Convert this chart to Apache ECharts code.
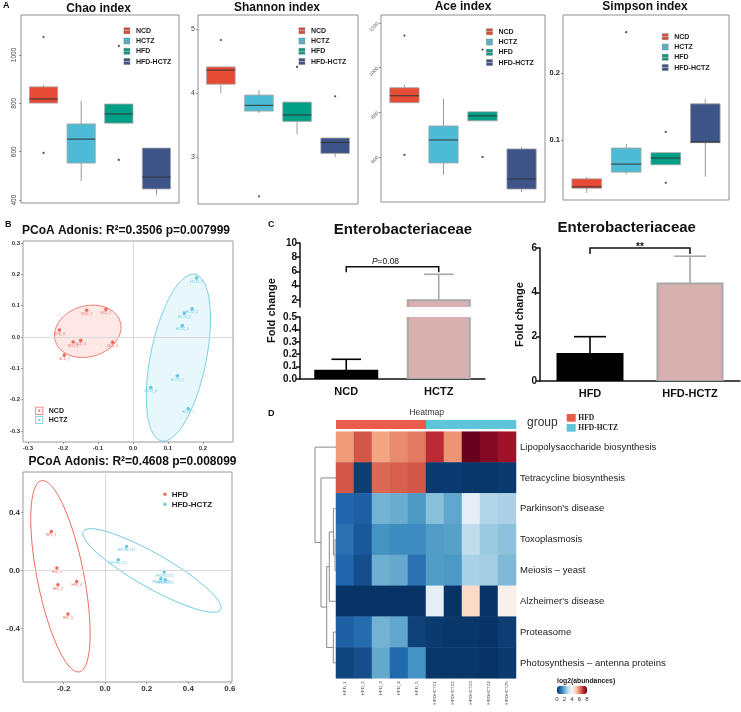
<!DOCTYPE html>
<html><head><meta charset="utf-8">
<script src="https://cdn.jsdelivr.net/npm/echarts@6/dist/echarts.min.js"></script>
<style>html,body{margin:0;padding:0;background:#fff}#c{width:741px;height:712px}</style>
</head><body><div id="c"></div>
<script>
// ---------------- DATA ----------------
const groupsA = ['NCD', 'HCTZ', 'HFD', 'HFD-HCTZ'];
const colorsA = ['#E64B35', '#4DBBD5', '#00A087', '#3C5488'];
// [min, Q1, median, Q3, max]
const chaoStats = [[801, 801, 818, 868, 876], [479, 553, 652, 715, 810], [718, 718, 756, 797, 797], [421, 446, 495, 615, 615]];
const chaoOutliers = [[1, 1074], [1, 595], [3, 1037], [3, 566]];
const chaoTicks = [400, 600, 800, 1000];
const shannonStats = [[4.00, 4.14, 4.36, 4.41, 4.41], [3.69, 3.72, 3.81, 3.97, 4.05], [3.36, 3.56, 3.66, 3.86, 3.86], [3.00, 3.06, 3.23, 3.30, 3.30]];
const shannonOutliers = [[1, 4.83], [2, 2.39], [3, 4.41], [4, 3.95]];
const shannonTicks = [3, 4, 5];
const aceStats = [[843, 843, 874, 910, 924], [519, 573, 676, 739, 861], [762, 762, 784, 802, 802], [443, 456, 501, 636, 645]];
const aceOutliers = [[1, 1144], [1, 609], [3, 1081], [3, 600]];
const aceTicks = [600, 800, 1000, 1200];
const simpsonStats = [[0.021, 0.028, 0.030, 0.042, 0.045], [0.049, 0.052, 0.064, 0.088, 0.094], [0.063, 0.063, 0.073, 0.081, 0.081], [0.045, 0.096, 0.097, 0.154, 0.161]];
const simpsonOutliers = [[2, 0.261], [3, 0.112], [3, 0.036]];
const simpsonTicks = [0.1, 0.2];

const pcoa1NCD = [[-0.132, 0.085], [-0.077, 0.088], [-0.210, 0.022], [-0.171, -0.016], [-0.149, -0.011], [-0.058, -0.017], [-0.196, -0.058]];
const pcoa1HCTZ = [[0.182, 0.188], [0.169, 0.090], [0.147, 0.076], [0.141, 0.036], [0.127, -0.124], [0.051, -0.161], [0.158, -0.229]];
const pcoa1Ticks = [-0.3, -0.2, -0.1, 0, 0.1, 0.2, 0.3];
// ellipse: [cx, cy, ux, uy, vx, vy]
const pcoa1Ellipses = [[-0.129, 0.018, 0.0888, 0.0414, -0.0338, 0.0725], [0.13, -0.066, 0.0469, 0.2659, -0.0788, 0.0139]];
const pcoa2HFD = [[-0.259, 0.269], [-0.232, 0.017], [-0.227, -0.099], [-0.137, -0.076], [-0.179, -0.301]];
const pcoa2HCTZ = [[0.103, 0.166], [0.063, 0.074], [0.284, -0.011], [0.268, -0.057], [0.289, -0.064]];
const pcoa2XTicks = [-0.2, 0, 0.2, 0.4, 0.6];
const pcoa2YTicks = [-0.4, 0, 0.4];
const pcoa2Ellipses = [[-0.215, -0.04, -0.091, 0.66, 0.11, 0.032], [0.225, 0.0, 0.33, -0.27, 0.04, 0.102]];

const cLeftCats = ['NCD', 'HCTZ'];
const cLeftMean = [0.067, 1.95];
const cLeftSD = [0.092, 3.65];
const cRightCats = ['HFD', 'HFD-HCTZ'];
const cRightMean = [1.22, 4.40];
const cRightSD = [0.78, 1.23];
const cUpperTicks = [2, 4, 6, 8, 10];
const cLowerTicks = [0, 0.1, 0.2, 0.3, 0.4, 0.5];
const bracketLeft = [0, 1, 6.67, 5.9];
const bracketRight = [0, 1, 6.0, 5.73];
const sigLeft = 'P=0.08';
const sigRight = '**';

const hmCols = ['HFD_1', 'HFD_2', 'HFD_3', 'HFD_4', 'HFD_5', 'HFDHCTZ1', 'HFDHCTZ2', 'HFDHCTZ3', 'HFDHCTZ4', 'HFDHCTZ5'];
const hmGroups = ['HFD', 'HFD', 'HFD', 'HFD', 'HFD', 'HFD-HCTZ', 'HFD-HCTZ', 'HFD-HCTZ', 'HFD-HCTZ', 'HFD-HCTZ'];
const hmRows = ['Lipopolysaccharide biosynthesis', 'Tetracycline biosynthesis', "Parkinson's disease", 'Toxoplasmosis', 'Meiosis \u2013 yeast', "Alzheimer's disease", 'Proteasome', 'Photosynthesis \u2013 antenna proteins'];
const hmValues = [
  [5.7, 6.5, 5.6, 5.9, 6.1, 7.0, 5.8, 8.0, 7.7, 7.4],
  [6.5, 0.2, 6.3, 6.4, 6.5, 0.15, 0.15, 0.1, 0.1, 0.15],
  [0.8, 0.7, 2.1, 2.0, 1.7, 2.3, 1.9, 3.6, 2.8, 2.7],
  [1.0, 0.6, 1.6, 1.5, 1.45, 1.75, 1.8, 3.0, 2.5, 2.35],
  [0.8, 0.45, 2.05, 1.95, 1.0, 1.75, 1.7, 2.7, 2.6, 2.2],
  [0.05, 0.05, 0.05, 0.05, 0.05, 3.6, 0.05, 4.8, 0.05, 4.2],
  [0.7, 0.9, 2.1, 1.9, 0.25, 0.15, 0.1, 0.1, 0.05, 0.2],
  [0.3, 0.45, 1.95, 0.85, 1.6, 0.1, 0.1, 0.1, 0.05, 0.15]
];
// dendrogram merges: [yChild1, hChild1, yChild2, hChild2, height]
const dendroMerges = [[3, 0, 4, 0, 1], [2, 0, 3.5, 1, 2.6], [2.75, 2.6, 5, 0, 6.7], [6, 0, 7, 0, 2.7], [3.875, 6.7, 6.5, 2.7, 9.3], [1, 0, 5.1875, 9.3, 15], [0, 0, 3.09375, 15, 21]];
const legendTicks = [0, 2, 4, 6, 8];

// ---------------- BUILD ----------------
const SANS = '"Liberation Sans", Arial, sans-serif';
const SERIF = '"Liberation Serif", "Times New Roman", serif';
const grids = [], xAxes = [], yAxes = [], series = [], legends = [], graphics = [];
function addGrid(r) { grids.push(Object.assign({ show: false }, r)); return grids.length - 1; }
function txt(text, x, y, o) {
  o = o || {};
  const al = o.align || 'center', va = o.valign || 'middle';
  return { type: 'text', x: x, y: y, rotation: o.rotation || 0, silent: true, z: 100,
    style: { text: text, fontSize: o.size || 10, fontWeight: o.weight || 'normal', fontFamily: o.family || SANS,
      fill: o.color || '#111', align: al, verticalAlign: va, textAlign: al, textVerticalAlign: va } };
}
const plainNum = function (v) { return String(+v); };

// ---- Panel A: box plots ----
function boxItem(params, api) {
  const x = api.value(0);
  const p = [1, 2, 3, 4, 5].map(function (i) { return api.coord([x, api.value(i)]); });
  const hw = api.size([0.75, 0])[0] / 2;
  const cx = p[0][0];
  const ws = { stroke: '#808080', lineWidth: 0.8 };
  return { type: 'group', children: [
    { type: 'line', shape: { x1: cx, y1: p[0][1], x2: cx, y2: p[1][1] }, style: ws },
    { type: 'line', shape: { x1: cx, y1: p[3][1], x2: cx, y2: p[4][1] }, style: ws },
    { type: 'rect', shape: { x: cx - hw, y: p[3][1], width: hw * 2, height: p[1][1] - p[3][1] }, style: { fill: api.visual('color'), stroke: '#a3a3a3', lineWidth: 0.8 } },
    { type: 'line', shape: { x1: cx - hw, y1: p[2][1], x2: cx + hw, y2: p[2][1] }, style: { stroke: '#333', lineWidth: 1 } }
  ] };
}
const boxPanels = [
  { title: 'Chao index', stats: chaoStats, out: chaoOutliers, ticks: chaoTicks, min: 388, max: 1165,
    grid: { left: 21, top: 15, width: 158, height: 188 }, label: { rotate: 90, fontSize: 6.5, color: '#444' }, lg: [123.7, 26.7], tp: [98.5, 9] },
  { title: 'Shannon index', stats: shannonStats, out: shannonOutliers, ticks: shannonTicks, min: 2.27, max: 5.22,
    grid: { left: 198, top: 15, width: 160, height: 189 }, label: { fontSize: 7, color: '#444' }, lg: [298.7, 26.7], tp: [277, 8] },
  { title: 'Ace index', stats: aceStats, out: aceOutliers, ticks: aceTicks, min: 398, max: 1236,
    grid: { left: 381, top: 15, width: 164, height: 187 }, label: { rotate: 45, fontSize: 5, color: '#555' }, lg: [486.3, 27.7], tp: [463, 6.5] },
  { title: 'Simpson index', stats: simpsonStats, out: simpsonOutliers, ticks: simpsonTicks, min: 0.0104, max: 0.2866,
    grid: { left: 563, top: 15, width: 166, height: 185 }, label: { fontSize: 7.5, fontWeight: 'bold', color: '#222' }, lg: [662, 32.7], tp: [645, 6.5] }
];
boxPanels.forEach(function (p) {
  const gi = addGrid(Object.assign({ show: true, borderColor: '#8f8f8f', borderWidth: 1 }, p.grid));
  xAxes.push({ type: 'value', gridIndex: gi, min: 0.4, max: 4.6, show: false });
  yAxes.push({ type: 'value', gridIndex: gi, min: p.min, max: p.max, axisLine: { show: false, onZero: false }, splitLine: { show: false },
    axisTick: { show: true, length: 2, customValues: p.ticks, lineStyle: { color: '#555', width: 0.6 } },
    axisLabel: Object.assign({ customValues: p.ticks, margin: 3, fontFamily: SANS, formatter: plainNum }, p.label) });
  const ai = xAxes.length - 1;
  groupsA.forEach(function (g, i) {
    series.push({ type: 'custom', name: g, xAxisIndex: ai, yAxisIndex: ai, itemStyle: { color: colorsA[i] },
      renderItem: boxItem, encode: { x: 0, y: [1, 5] }, data: [[i + 1].concat(p.stats[i])], silent: true });
  });
  series.push({ type: 'scatter', xAxisIndex: ai, yAxisIndex: ai, symbolSize: 2.2, itemStyle: { color: '#222' }, data: p.out, silent: true });
  legends.push({ data: groupsA, orient: 'vertical', left: p.lg[0], top: p.lg[1], itemWidth: 8, itemHeight: 6, itemGap: 2.3, selectedMode: false, padding: 0,
    icon: 'path://M0,0H10V4.4H0Z M0,5.6H10V10H0Z',
    itemStyle: { borderColor: '#666', borderWidth: 0.4 },
    textStyle: { fontSize: 7, fontWeight: 'bold', color: '#222', lineHeight: 8, fontFamily: SANS } });
  graphics.push(txt(p.title, p.tp[0], p.tp[1], { size: 12, weight: 'bold' }));
});
graphics.push(txt('A', 3, 5.5, { size: 9, weight: 'bold', align: 'left' }));

// ---- Panel B: PCoA ----
function ellipseRenderer(fills, strokes) {
  return function (params, api) {
    const v = [0, 1, 2, 3, 4, 5].map(function (i) { return api.value(i); });
    const pts = [];
    for (let k = 0; k <= 96; k++) {
      const t = k / 96 * Math.PI * 2;
      pts.push(api.coord([v[0] + v[2] * Math.cos(t) + v[4] * Math.sin(t), v[1] + v[3] * Math.cos(t) + v[5] * Math.sin(t)]));
    }
    return { type: 'polygon', shape: { points: pts }, style: { fill: fills[params.dataIndex], stroke: strokes[params.dataIndex], lineWidth: 1 } };
  };
}
function pcoaAxisLabel(size) { return { fontSize: size, fontWeight: 'bold', color: '#333', margin: 3, fontFamily: SANS, formatter: function (v) { return (+v).toFixed(1); } }; }
function pcoaPanel(cfg) {
  const gi = addGrid(Object.assign({ show: true, borderColor: '#9a9a9a', borderWidth: 1 }, cfg.grid));
  xAxes.push({ type: 'value', gridIndex: gi, min: cfg.xr[0], max: cfg.xr[1], splitLine: { show: false }, axisLine: { show: false, onZero: false },
    axisTick: { show: true, length: 2, customValues: cfg.xt, lineStyle: { color: '#666', width: 0.6 } }, axisLabel: Object.assign({ customValues: cfg.xt }, pcoaAxisLabel(cfg.fs)) });
  yAxes.push({ type: 'value', gridIndex: gi, min: cfg.yr[0], max: cfg.yr[1], splitLine: { show: false }, axisLine: { show: false, onZero: false },
    axisTick: { show: true, length: 2, customValues: cfg.yt, lineStyle: { color: '#666', width: 0.6 } }, axisLabel: Object.assign({ customValues: cfg.yt }, pcoaAxisLabel(cfg.fs)) });
  const ai = xAxes.length - 1;
  series.push({ type: 'custom', xAxisIndex: ai, yAxisIndex: ai, renderItem: ellipseRenderer(cfg.efill, cfg.estroke), encode: { x: 0, y: 1 }, data: cfg.ellipses, silent: true, z: 1,
    markLine: { silent: true, symbol: 'none', label: { show: false }, lineStyle: { color: '#d9d9d9', width: 1, type: 'solid' }, data: [{ xAxis: 0 }, { yAxis: 0 }] } });
  cfg.groups.forEach(function (g, k) {
    series.push({ type: 'scatter', name: cfg.prefix + '|' + g, xAxisIndex: ai, yAxisIndex: ai, symbolSize: 3.6, z: 3, itemStyle: { color: cfg.colors[k] },
      label: { show: true, position: 'bottom', distance: 0.5, fontSize: 3.3, color: cfg.colors[k], formatter: '{b}' },
      data: cfg.points[k].map(function (pt, j) { return { name: cfg.sample[k] + (j + 1), value: pt }; }), silent: true });
  });
}
pcoaPanel({ grid: { left: 23, top: 241, width: 210, height: 201 }, xr: [-0.314, 0.286], yr: [-0.335, 0.306], xt: pcoa1Ticks.slice(0, 6), yt: pcoa1Ticks, fs: 6,
  ellipses: pcoa1Ellipses, efill: ['rgba(240,110,100,0.16)', 'rgba(90,195,225,0.14)'], estroke: ['#EE7C72', '#7DCFE4'],
  groups: ['NCD', 'HCTZ'], prefix: 'b1', colors: ['#E8473A', '#3FBCDD'], points: [pcoa1NCD, pcoa1HCTZ], sample: ['NCD_', 'HCTZ_'] });
pcoaPanel({ grid: { left: 23, top: 472, width: 209, height: 210 }, xr: [-0.395, 0.61], yr: [-0.77, 0.68], xt: pcoa2XTicks, yt: pcoa2YTicks, fs: 8,
  ellipses: pcoa2Ellipses, efill: ['rgba(0,0,0,0)', 'rgba(0,0,0,0)'], estroke: ['#EE6A5E', '#6FCBE2'],
  groups: ['HFD', 'HFD-HCTZ'], prefix: 'b2', colors: ['#E8473A', '#3FBCDD'], points: [pcoa2HFD, pcoa2HCTZ], sample: ['HFD_', 'HFDHCTZ'] });
legends.push({ data: ['b1|NCD', 'b1|HCTZ'], orient: 'vertical', left: 35.3, top: 406.7, itemWidth: 9, itemHeight: 8, itemGap: 1.3, selectedMode: false, padding: 0,
  icon: 'path://M0,0H10V10H0Z M1,1V9H9V1Z M3.6,5A1.4,1.4 0 1,0 6.4,5A1.4,1.4 0 1,0 3.6,5Z',
  formatter: function (n) { return n.split('|')[1]; }, textStyle: { fontSize: 7, fontWeight: 'bold', color: '#222', lineHeight: 8, fontFamily: SANS } });
legends.push({ data: ['b2|HFD', 'b2|HFD-HCTZ'], orient: 'vertical', left: 163.2, top: 489.8, itemWidth: 3.5, itemHeight: 3.5, itemGap: 1, selectedMode: false, padding: 0, icon: 'circle',
  formatter: function (n) { return n.split('|')[1]; }, textStyle: { fontSize: 8, fontWeight: 'bold', color: '#222', lineHeight: 9, fontFamily: SANS } });
graphics.push(txt('B', 5, 225, { size: 9, weight: 'bold', align: 'left' }));
graphics.push(txt('PCoA Adonis: R\u00b2=0.3506 p=0.007999', 126, 230.7, { size: 12, weight: 'bold' }));
graphics.push(txt('PCoA Adonis: R\u00b2=0.4608 p=0.008099', 132.5, 461.7, { size: 12, weight: 'bold' }));

// ---- Panel C: bar charts ----
const barFill = ['#000000', '#D8B0B0'], barStroke = ['#000000', '#A8A8A8'];
function barRenderer(frac) {
  return function (params, api) {
    const i = api.value(0), v = api.value(1);
    const t = api.coord([i, v]), b = api.coord([i, 0]);
    const w = api.size([1, 0])[0] * frac;
    return { type: 'rect', shape: { x: t[0] - w / 2, y: t[1], width: w, height: b[1] - t[1] }, style: { fill: barFill[i], stroke: barStroke[i], lineWidth: 2 } };
  };
}
function errRenderer(frac) {
  return function (params, api) {
    const i = api.value(0), m = api.value(1), s = api.value(2);
    const a = api.coord([i, m]), b = api.coord([i, m + s]);
    const w = api.size([1, 0])[0] * frac;
    const st = { stroke: barStroke[i], lineWidth: 1.6 };
    return { type: 'group', children: [
      { type: 'line', shape: { x1: a[0], y1: a[1], x2: b[0], y2: b[1] }, style: st },
      { type: 'line', shape: { x1: b[0] - w / 2, y1: b[1], x2: b[0] + w / 2, y2: b[1] }, style: st }] };
  };
}
function bracketRenderer(label, dx, dy, bold) {
  return function (params, api) {
    const p1 = api.coord([api.value(0), api.value(3)]), p2 = api.coord([api.value(0), api.value(2)]);
    const p3 = api.coord([api.value(1), api.value(2)]), p4 = api.coord([api.value(1), api.value(3)]);
    const isP = label.indexOf('P=') === 0;
    const style = { text: isP ? '{i|P}{n|' + label.slice(1) + '}' : label, fontSize: 8.5, fontWeight: bold ? 'bold' : 'normal', fontFamily: SANS, fill: '#111',
      align: 'center', verticalAlign: 'bottom', textAlign: 'center', textVerticalAlign: 'bottom',
      rich: { i: { fontStyle: 'italic', fontSize: 8.5, fontFamily: SANS, fill: '#111' }, n: { fontSize: 8.5, fontFamily: SANS, fill: '#111' } } };
    if (!isP) { style.fontSize = 10; delete style.rich; }
    return { type: 'group', children: [
      { type: 'polyline', shape: { points: [p1, p2, p3, p4] }, style: { stroke: '#111', lineWidth: 1.5, fill: null } },
      { type: 'text', x: (p2[0] + p3[0]) / 2 + dx, y: p2[1] - dy, style: style }] };
  };
}
const axisBlack = { show: true, onZero: false, lineStyle: { color: '#111', width: 1.5 } };
const tickBlack = { show: true, length: 4, lineStyle: { color: '#111', width: 1.5 } };
const labBold = { fontSize: 10, fontWeight: 'bold', color: '#111', margin: 3, fontFamily: SANS };
const catLab = { fontSize: 11, fontWeight: 'bold', color: '#111', margin: 7, fontFamily: SANS, interval: 0 };
function cSegment(grid, cats, yopt, showX, means, sds, frac, bracket, sig, dx, dy) {
  const gi = addGrid(grid);
  xAxes.push({ type: 'category', gridIndex: gi, data: cats, show: showX, axisLine: { show: true, onZero: true, lineStyle: { color: '#111', width: 1.5 } }, axisTick: { show: false }, axisLabel: catLab });
  yAxes.push(Object.assign({ type: 'value', gridIndex: gi, splitLine: { show: false }, axisLine: axisBlack }, yopt));
  const ai = xAxes.length - 1;
  series.push({ type: 'custom', xAxisIndex: ai, yAxisIndex: ai, clip: true, renderItem: barRenderer(frac), encode: { x: 0, y: 1 }, data: means.map(function (m, i) { return [i, m]; }), silent: true, z: 2 });
  series.push({ type: 'custom', xAxisIndex: ai, yAxisIndex: ai, clip: true, renderItem: errRenderer(0.32), encode: { x: 0, y: 1 }, data: means.map(function (m, i) { return [i, m, sds[i]]; }), silent: true, z: 3 });
  if (bracket) series.push({ type: 'custom', xAxisIndex: ai, yAxisIndex: ai, clip: false, renderItem: bracketRenderer(sig, dx, dy, sig === '**'), encode: { x: 0, y: 2 }, data: [bracket], silent: true, z: 4 });
}
cSegment({ left: 300, top: 243, width: 185, height: 64 }, cLeftCats,
  { min: 1, max: 10, axisTick: Object.assign({ customValues: cUpperTicks }, tickBlack), axisLabel: Object.assign({ customValues: cUpperTicks }, labBold) },
  false, cLeftMean, cLeftSD, 0.67, bracketLeft, sigLeft, -7, 1);
cSegment({ left: 300, top: 317, width: 185, height: 62 }, cLeftCats,
  { min: 0, max: 0.5, axisTick: Object.assign({ customValues: cLowerTicks }, tickBlack), axisLabel: Object.assign({ customValues: cLowerTicks, formatter: function (v) { return (+v).toFixed(1); } }, labBold) },
  true, cLeftMean, cLeftSD, 0.67, null);
cSegment({ left: 540, top: 248, width: 200, height: 133 }, cRightCats,
  { min: 0, max: 6, interval: 2, axisTick: tickBlack, axisLabel: labBold },
  true, cRightMean, cRightSD, 0.65, bracketRight, sigRight, 0, -4);
graphics.push(txt('C', 268, 225, { size: 9, weight: 'bold', align: 'left' }));
graphics.push(txt('Enterobacteriaceae', 403, 230, { size: 15, weight: 'bold' }));
graphics.push(txt('Enterobacteriaceae', 626.7, 228.3, { size: 15, weight: 'bold' }));
graphics.push(txt('Fold change', 272, 310.5, { size: 11, weight: 'bold', rotation: Math.PI / 2 }));
graphics.push(txt('Fold change', 520, 314.5, { size: 11, weight: 'bold', rotation: Math.PI / 2 }));

// ---- Panel D: heatmap ----
const rdbu = ['#053061', '#2166AC', '#4393C3', '#92C5DE', '#D1E5F0', '#F7F7F7', '#FDDBC7', '#F4A582', '#D6604D', '#B2182B', '#67001F'];
const groupColors = ['#EB5B4B', '#5DC4DA'];
const giH = addGrid({ left: 336, top: 431.7, width: 180, height: 246.6 });
xAxes.push({ type: 'category', gridIndex: giH, data: hmCols, axisLine: { show: false }, axisTick: { show: false }, splitLine: { show: false },
  axisLabel: { rotate: 90, fontSize: 4.4, color: '#444', margin: 3, interval: 0, fontFamily: SANS } });
yAxes.push({ type: 'category', gridIndex: giH, data: hmRows, inverse: true, position: 'right', axisLine: { show: false }, axisTick: { show: false }, splitLine: { show: false },
  axisLabel: { fontSize: 9.5, color: '#1a1a1a', margin: 4, interval: 0, fontFamily: SANS } });
const hmAxis = xAxes.length - 1;
const hmData = [];
hmValues.forEach(function (row, r) { row.forEach(function (v, c) { hmData.push([c, r, v]); }); });
series.push({ type: 'heatmap', xAxisIndex: hmAxis, yAxisIndex: hmAxis, data: hmData, silent: true, emphasis: { disabled: true }, itemStyle: { borderWidth: 0 } });
const hmSeriesIndex = series.length - 1;

const giG = addGrid({ left: 336, top: 420, width: 180, height: 9 });
xAxes.push({ type: 'category', gridIndex: giG, data: hmCols, show: false });
yAxes.push({ type: 'category', gridIndex: giG, data: ['group'], show: false });
series.push({ type: 'custom', xAxisIndex: xAxes.length - 1, yAxisIndex: xAxes.length - 1, silent: true, encode: { x: 0, y: 1 },
  data: hmGroups.map(function (g, i) { return [i, 0, g === 'HFD' ? 0 : 1]; }),
  renderItem: function (params, api) {
    const c = api.coord([api.value(0), api.value(1)]), s = api.size([1, 1]);
    return { type: 'rect', shape: { x: c[0] - s[0] / 2, y: c[1] - s[1] / 2, width: s[0] + 0.3, height: s[1] }, style: { fill: groupColors[api.value(2)] } };
  } });

const giD = addGrid({ left: 310, top: 431.7, width: 26, height: 246.6 });
xAxes.push({ type: 'value', gridIndex: giD, min: 0, max: 26, inverse: true, show: false });
yAxes.push({ type: 'value', gridIndex: giD, min: -0.5, max: 7.5, inverse: true, show: false });
series.push({ type: 'custom', xAxisIndex: xAxes.length - 1, yAxisIndex: xAxes.length - 1, silent: true, encode: { x: 4, y: 0 }, data: dendroMerges,
  renderItem: function (params, api) {
    const y1 = api.value(0), h1 = api.value(1), y2 = api.value(2), h2 = api.value(3), h = api.value(4);
    return { type: 'polyline', shape: { points: [api.coord([h1, y1]), api.coord([h, y1]), api.coord([h, y2]), api.coord([h2, y2])] }, style: { stroke: '#8a8a8a', lineWidth: 1, fill: null } };
  } });

const giL = addGrid({ left: 557, top: 686, width: 30, height: 8 });
xAxes.push({ type: 'value', gridIndex: giL, min: 0, max: 8, interval: 2, axisLine: { show: false, onZero: false }, axisTick: { show: false }, splitLine: { show: false },
  axisLabel: { fontSize: 6, color: '#333', margin: 2, fontFamily: SANS, customValues: legendTicks } });
yAxes.push({ type: 'value', gridIndex: giL, show: false, min: 0, max: 1 });
series.push({ type: 'scatter', xAxisIndex: xAxes.length - 1, yAxisIndex: xAxes.length - 1, data: [], silent: true });

graphics.push(txt('D', 268, 413.5, { size: 9, weight: 'bold', align: 'left' }));
graphics.push(txt('Heatmap', 426.7, 412.7, { size: 8.5, color: '#333' }));
graphics.push(txt('group', 527, 423, { size: 12, color: '#333', align: 'left' }));
graphics.push({ type: 'rect', shape: { x: 566.7, y: 414, width: 9, height: 7.7 }, style: { fill: groupColors[0] }, silent: true });
graphics.push({ type: 'rect', shape: { x: 566.7, y: 424, width: 9, height: 7.7 }, style: { fill: groupColors[1] }, silent: true });
graphics.push(txt('HFD', 578.3, 418, { size: 7.5, weight: 'bold', family: SERIF, color: '#222', align: 'left' }));
graphics.push(txt('HFD-HCTZ', 578.3, 428, { size: 7.5, weight: 'bold', family: SERIF, color: '#222', align: 'left' }));
graphics.push(txt('log2(abundances)', 557, 681, { size: 6.8, weight: 'bold', color: '#222', align: 'left' }));

const option = {
  animation: false, backgroundColor: '#fff', textStyle: { fontFamily: SANS },
  grid: grids, xAxis: xAxes, yAxis: yAxes, series: series, legend: legends,
  visualMap: [{ type: 'continuous', min: 0, max: 8, seriesIndex: hmSeriesIndex, orient: 'horizontal', left: 557, top: 686,
    itemWidth: 8, itemHeight: 30, calculable: false, realtime: false, padding: 0, hoverLink: false, inRange: { color: rdbu } }],
  graphic: { elements: graphics }
};
const chart = echarts.init(document.getElementById('c'), null, { renderer: 'canvas' });
chart.setOption(option);
</script></body></html>
